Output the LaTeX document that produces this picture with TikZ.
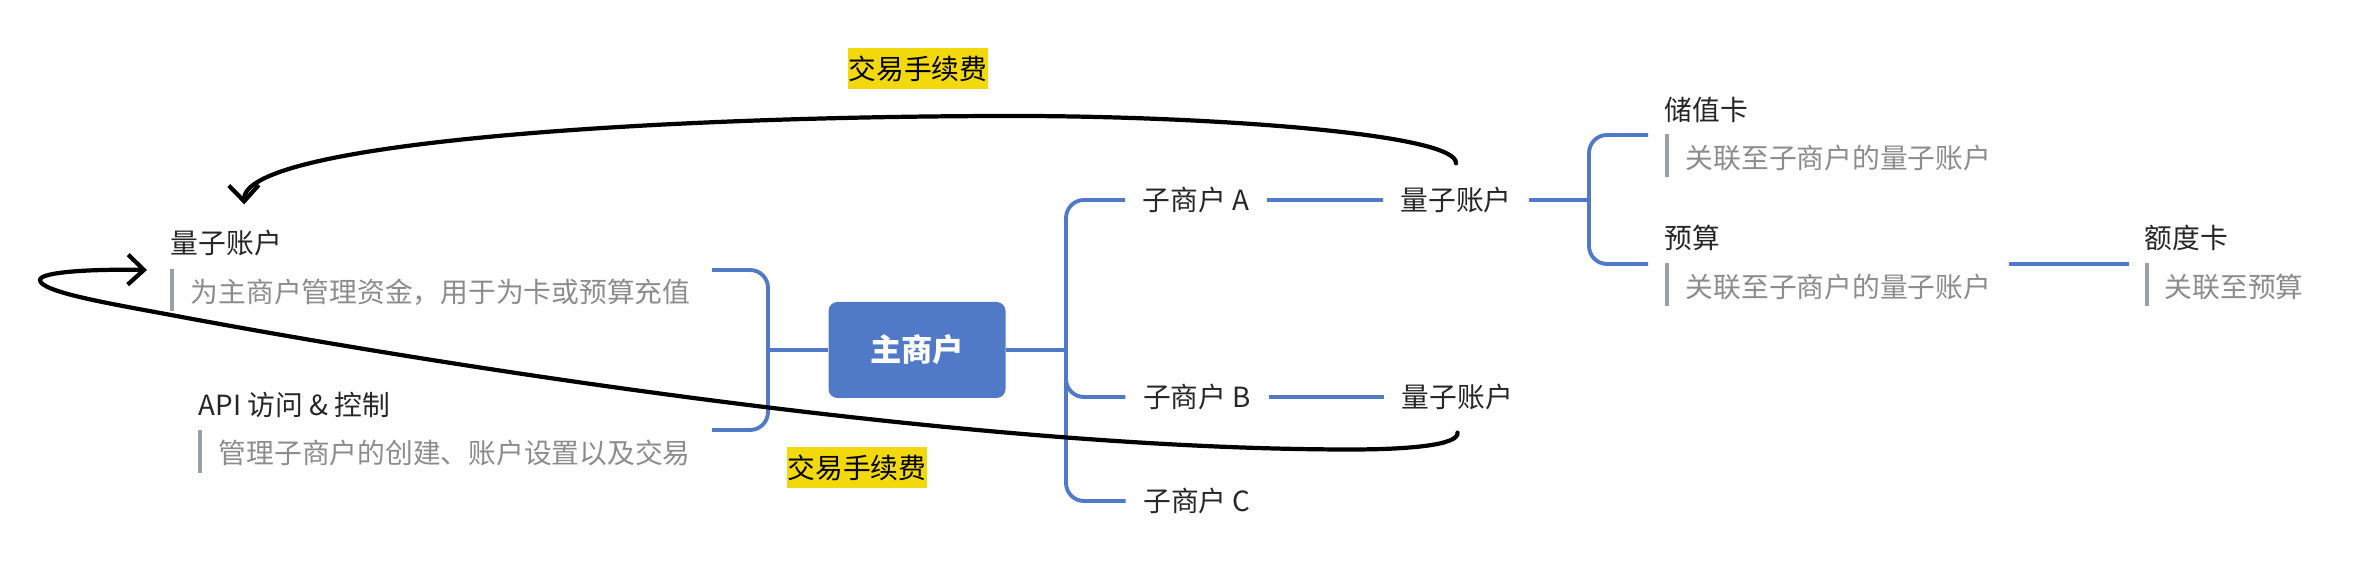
\documentclass[tikz,border=0pt]{standalone}
\usepackage{fontspec}
\setmainfont{Noto Sans CJK SC}
\usetikzlibrary{arrows.meta}

\definecolor{mapblue}{RGB}{80,121,199}
\definecolor{notegray}{RGB}{140,140,140}
\definecolor{bargray}{RGB}{155,160,168}
\definecolor{feeyellow}{RGB}{242,217,12}
\definecolor{titleblack}{RGB}{38,38,38}

\newcommand{\mapfont}{\fontsize{7.9pt}{9pt}\selectfont}

\tikzset{
  topic/.style={inner xsep=0.17cm, inner ysep=0pt, text=titleblack, font=\mapfont},
  leaf/.style={anchor=west, inner sep=0pt, text=titleblack, font=\mapfont},
  note/.style={anchor=west, inner sep=0pt, text=notegray, font=\mapfont},
  root/.style={fill=mapblue, rounded corners=0.09cm, minimum width=1.77cm,
    minimum height=0.96cm, text=white, font=\bfseries\fontsize{8.9pt}{10pt}\selectfont},
  branch/.style={draw=mapblue, line width=1.1pt, rounded corners=0.18cm},
  bar/.style={draw=bargray, line width=1.2pt},
  fee/.style={fill=feeyellow, inner sep=0pt, minimum width=1.40cm,
    minimum height=0.41cm, text=black, font=\mapfont},
  flow/.style={draw=black, line width=1.2pt, line cap=round,
    -{Straight Barb[length=0.16cm,width=0.3cm]}}
}

\begin{document}
\begin{tikzpicture}
    \useasboundingbox (0,0) rectangle (23.70,5.78);

    % Main account
    \node[root] (main) at (9.17,2.28) {主商户};

    % Left side
    \node[leaf] (qz0) at (1.70,3.35) {量子账户};
    \node[note] (desc0) at (1.90,2.86) {为主商户管理资金，用于为卡或预算充值};
    \node[leaf] (api) at (1.98,1.73) {API 访问 \& 控制};
    \node[note] (desc1) at (2.18,1.25) {管理子商户的创建、账户设置以及交易};
    \draw[bar] (1.72,3.09) -- (1.72,2.67);
    \draw[bar] (2.00,1.48) -- (2.00,1.05);

    \coordinate (lj) at (7.68,2.28);
    \coordinate (lt) at (7.12,3.08);
    \coordinate (lb) at (7.12,1.48);
    \draw[branch] (main.west) -- (lj);
    \draw[branch] (lt) -| (lj) |- (lb);

    % Sub accounts
    \node[topic] (subA) at (11.96,3.78) {子商户 A};
    \node[topic] (subB) at (11.97,1.81) {子商户 B};
    \node[topic] (subC) at (11.97,0.77) {子商户 C};
    \node[topic] (qzA) at (14.56,3.78) {量子账户};
    \node[topic] (qzB) at (14.575,1.81) {量子账户};

    \coordinate (rj) at (10.66,2.28);
    \draw[branch] (main.east) -- (rj);
    \draw[branch] (subA.west) -| (rj) |- (subC.west);
    \draw[branch] (rj) |- (subB.west);
    \draw[branch] (subA.east) -- (qzA.west);
    \draw[branch] (subB.east) -- (qzB.west);

    % Cards and budget
    \node[leaf] (card) at (16.64,4.68) {储值卡};
    \node[note] (desc2) at (16.85,4.20) {关联至子商户的量子账户};
    \node[leaf] (budget) at (16.64,3.40) {预算};
    \node[note] (desc3) at (16.85,2.91) {关联至子商户的量子账户};
    \node[leaf] (limit) at (21.44,3.40) {额度卡};
    \node[note] (desc4) at (21.64,2.91) {关联至预算};
    \draw[bar] (16.67,4.44) -- (16.67,4.01);
    \draw[bar] (16.67,3.15) -- (16.67,2.72);
    \draw[bar] (21.47,3.15) -- (21.47,2.72);

    \coordinate (qj) at (15.89,3.78);
    \coordinate (ct) at (16.48,4.43);
    \coordinate (cb) at (16.48,3.14);
    \coordinate (b1) at (20.09,3.14);
    \coordinate (b2) at (21.29,3.14);
    \draw[branch] (qzA.east) -- (qj);
    \draw[branch] (ct) -| (qj) |- (cb);
    \draw[branch] (b1) -- (b2);

    % Fees
    \node[fee] (feeTop) at (9.18,5.095) {交易手续费};
    \node[fee] (feeBot) at (8.57,1.105) {交易手续费};

    \draw[flow] ([yshift=0.23cm]qzA.north)
        .. controls (14.58,4.45) and (12.0,4.62) .. (10.16,4.62)
        .. controls (6.5,4.62) and (2.43,4.35) .. ([shift={(0.18,0.25)}]qz0.north);
    \draw[flow] ([yshift=-0.22cm]qzB.south)
        .. controls (14.59,1.33) and (14.1,1.285) .. (13.5,1.285)
        .. controls (9.5,1.285) and (4.0,2.2) .. (1.71,2.63)
        .. controls (1.12,2.74) and (0.40,2.86) .. (0.40,2.98)
        .. controls (0.40,3.06) and (0.9,3.09) .. ([shift={(-0.23,-0.27)}]qz0.west);
\end{tikzpicture}
\end{document}
